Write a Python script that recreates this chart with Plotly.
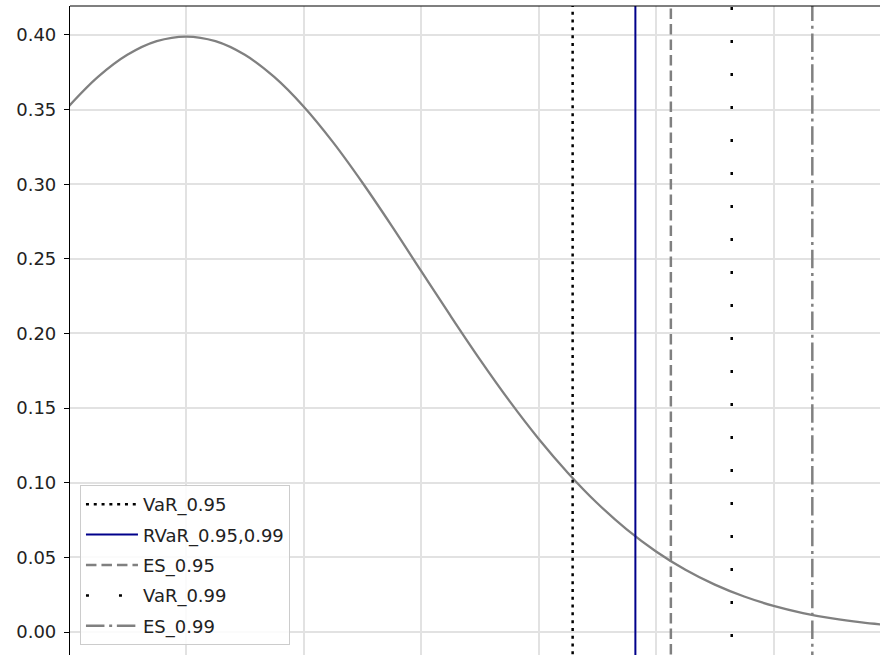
import plotly.graph_objects as go

# Standard normal density
x_vals = [-0.5, -0.375, -0.25, -0.125, 0.0, 0.125, 0.25, 0.375, 0.5, 0.625, 0.75, 0.875,
          1.0, 1.125, 1.25, 1.375, 1.5, 1.625, 1.75, 1.875, 2.0, 2.125, 2.25, 2.375,
          2.5, 2.625, 2.75, 2.875, 3.0]
pdf_vals = [0.35207, 0.37186, 0.38667, 0.39583, 0.39894, 0.39583, 0.38667, 0.37186, 0.35207,
            0.32817, 0.30114, 0.27210, 0.24197, 0.21190, 0.18265, 0.15500, 0.12952, 0.10660,
            0.08628, 0.06880, 0.05399, 0.04170, 0.03174, 0.02377, 0.01753, 0.01272, 0.00909,
            0.00640, 0.00443]

# Risk measures (vertical lines)
risk_names = ["VaR_0.95", "RVaR_0.95,0.99", "ES_0.95", "VaR_0.99", "ES_0.99"]
risk_values = [1.645, 1.912, 2.063, 2.322, 2.665]
risk_colors = ["black", "#00008B", "#808080", "black", "#808080"]
risk_dashes = ["3px,4.8px", "solid", "10.5px,5px", "3px,30px", "18.5px,4.7px,3px,4.7px"]
risk_widths = [2.5, 2, 2.5, 2.5, 2.5]

y_ticks = [0.00, 0.05, 0.10, 0.15, 0.20, 0.25, 0.30, 0.35, 0.40]

x_range = [-0.494, 2.953]
y_range = [-0.0154, 0.4194]

fig = go.Figure()
fig.add_trace(go.Scatter(x=x_vals, y=pdf_vals, mode="lines",
                         line=dict(color="#808080", width=2.3, shape="spline"),
                         showlegend=False, hoverinfo="skip"))

for i, (name, v, c, d, w) in enumerate(zip(risk_names, risk_values, risk_colors, risk_dashes, risk_widths)):
    fig.add_trace(go.Scatter(x=[v, v], y=[y_range[0] - 0.01, y_range[1] + 0.01], mode="lines",
                             name=name, legendgroup=f"g{i}",
                             line=dict(color=c, width=w, dash=d)))

fig.add_shape(type="line", xref="paper", yref="paper", x0=0, x1=1, y0=1, y1=1,
              line=dict(color="black", width=1.2))

fig.update_layout(
    width=880, height=655,
    margin=dict(l=70, r=0, t=6, b=0, autoexpand=False),
    plot_bgcolor="white", paper_bgcolor="white",
    font=dict(family="DejaVu Sans", size=18, color="#222222"),
    xaxis=dict(range=x_range, dtick=0.5, tick0=0, showgrid=True, gridcolor="#e2e2e2",
               gridwidth=1.6, showticklabels=False, zeroline=False, showline=False, ticks="",
               automargin=False),
    yaxis=dict(range=y_range, tickvals=y_ticks, tickformat=".2f", showgrid=True,
               gridcolor="#e2e2e2", gridwidth=1.6, zeroline=False, showline=True,
               linecolor="black", linewidth=1.2, ticks="outside", ticklen=5,
               tickcolor="black", tickwidth=1.2, automargin=False, ticklabelstandoff=4),
    legend=dict(x=0.0123, y=0.0154, xanchor="left", yanchor="bottom",
                bgcolor="rgba(255,255,255,0.85)", bordercolor="#cccccc", borderwidth=1,
                font=dict(size=18), tracegroupgap=4, traceorder="grouped", itemwidth=52),
)

fig.write_html("out.html", post_script="document.body.style.margin='0';",
               config={"displayModeBar": False})
